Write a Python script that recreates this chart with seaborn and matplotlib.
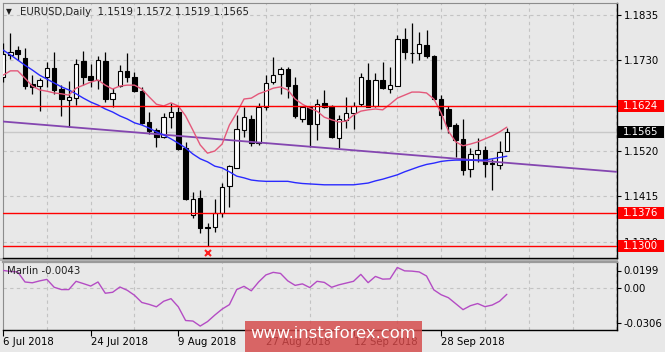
import numpy as np
import pandas as pd
import matplotlib
matplotlib.use("Agg")
import matplotlib.pyplot as plt
import seaborn as sns
from matplotlib.patches import Rectangle
from matplotlib.transforms import blended_transform_factory

# ---------------- data ----------------
opens = [1.1691, 1.1742, 1.1753, 1.1734, 1.1674, 1.1670, 1.1690, 1.1711, 1.1662, 1.1638,
         1.1642, 1.1728, 1.1693, 1.1684, 1.1728, 1.1641, 1.1669, 1.1705, 1.1691, 1.1658,
         1.1586, 1.1568, 1.1553, 1.1598, 1.1611, 1.1526, 1.1372, 1.1411, 1.1345, 1.1344,
         1.1376, 1.1439, 1.1480, 1.1568, 1.1595, 1.1539, 1.1621, 1.1679, 1.1698, 1.1709,
         1.1672, 1.1595, 1.1621, 1.1582, 1.1630, 1.1624, 1.1551, 1.1592, 1.1607, 1.1628,
         1.1685, 1.1624, 1.1684, 1.1662, 1.1670, 1.1778, 1.1747, 1.1747, 1.1765, 1.1739,
         1.1640, 1.1617, 1.1580, 1.1547, 1.1478, 1.1513, 1.1522, 1.1492, 1.1488, 1.1519]
highs = [1.1769, 1.1793, 1.1762, 1.1757, 1.1695, 1.1688, 1.1726, 1.1748, 1.1672, 1.1682,
         1.1732, 1.1751, 1.1721, 1.1739, 1.1748, 1.1666, 1.1718, 1.1747, 1.1702, 1.1667,
         1.1611, 1.1573, 1.1607, 1.1630, 1.1622, 1.1541, 1.1426, 1.1430, 1.1353, 1.1409,
         1.1447, 1.1488, 1.1603, 1.1622, 1.1603, 1.1630, 1.1695, 1.1736, 1.1715, 1.1715,
         1.1691, 1.1624, 1.1622, 1.1639, 1.1661, 1.1626, 1.1603, 1.1644, 1.1634, 1.1701,
         1.1722, 1.1701, 1.1726, 1.1715, 1.1788, 1.1803, 1.1816, 1.1794, 1.1799, 1.1742,
         1.1649, 1.1624, 1.1584, 1.1595, 1.1528, 1.1551, 1.1532, 1.1501, 1.1544, 1.1572]
lows = [1.1680, 1.1732, 1.1730, 1.1662, 1.1652, 1.1612, 1.1668, 1.1652, 1.1601, 1.1575,
        1.1626, 1.1672, 1.1667, 1.1662, 1.1634, 1.1621, 1.1667, 1.1680, 1.1656, 1.1582,
        1.1559, 1.1530, 1.1549, 1.1572, 1.1522, 1.1407, 1.1365, 1.1330, 1.1300, 1.1334,
        1.1367, 1.1391, 1.1480, 1.1553, 1.1532, 1.1534, 1.1615, 1.1675, 1.1652, 1.1642,
        1.1596, 1.1588, 1.1530, 1.1545, 1.1619, 1.1551, 1.1526, 1.1572, 1.1570, 1.1624,
        1.1621, 1.1622, 1.1664, 1.1653, 1.1669, 1.1732, 1.1724, 1.1730, 1.1734, 1.1638,
        1.1570, 1.1562, 1.1507, 1.1465, 1.1459, 1.1495, 1.1459, 1.1430, 1.1478, 1.1519]
closes = [1.1743, 1.1749, 1.1743, 1.1670, 1.1667, 1.1685, 1.1712, 1.1661, 1.1639, 1.1644,
          1.1721, 1.1691, 1.1684, 1.1730, 1.1640, 1.1655, 1.1705, 1.1690, 1.1658, 1.1585,
          1.1567, 1.1553, 1.1598, 1.1611, 1.1525, 1.1409, 1.1409, 1.1342, 1.1343, 1.1376,
          1.1438, 1.1485, 1.1571, 1.1598, 1.1539, 1.1621, 1.1678, 1.1695, 1.1709, 1.1670,
          1.1601, 1.1622, 1.1582, 1.1628, 1.1622, 1.1553, 1.1594, 1.1607, 1.1624, 1.1690,
          1.1622, 1.1684, 1.1665, 1.1672, 1.1778, 1.1749, 1.1746, 1.1767, 1.1739, 1.1639,
          1.1603, 1.1578, 1.1545, 1.1476, 1.1513, 1.1522, 1.1490, 1.1490, 1.1517, 1.1565]

fast_ma = [1.1695, 1.1705, 1.1705, 1.1688, 1.1670, 1.1661, 1.1658, 1.1654, 1.1652, 1.1649,
           1.1665, 1.1672, 1.1679, 1.1684, 1.1672, 1.1663, 1.1670, 1.1672, 1.1672, 1.1663,
           1.1645, 1.1628, 1.1624, 1.1631, 1.1624, 1.1601, 1.1568, 1.1534, 1.1515, 1.1520,
           1.1536, 1.1580, 1.1608, 1.1640, 1.1642, 1.1652, 1.1658, 1.1665, 1.1668, 1.1661,
           1.1640, 1.1628, 1.1619, 1.1612, 1.1598, 1.1592, 1.1587, 1.1589, 1.1603, 1.1612,
           1.1615, 1.1617, 1.1615, 1.1628, 1.1642, 1.1649, 1.1656, 1.1656, 1.1654, 1.1640,
           1.1608, 1.1566, 1.1541, 1.1532, 1.1536, 1.1541, 1.1548, 1.1555, 1.1564, 1.1575]
slow_ma = [1.1753, 1.1742, 1.1730, 1.1718, 1.1707, 1.1695, 1.1686, 1.1677, 1.1668, 1.1661,
           1.1652, 1.1642, 1.1633, 1.1626, 1.1617, 1.1610, 1.1601, 1.1594, 1.1585, 1.1580,
           1.1573, 1.1564, 1.1557, 1.1548, 1.1538, 1.1527, 1.1513, 1.1502, 1.1495, 1.1485,
           1.1481, 1.1472, 1.1462, 1.1458, 1.1453, 1.1451, 1.1450, 1.1450, 1.1450, 1.1450,
           1.1447, 1.1445, 1.1444, 1.1443, 1.1442, 1.1442, 1.1442, 1.1442, 1.1442, 1.1444,
           1.1446, 1.1451, 1.1455, 1.1460, 1.1465, 1.1472, 1.1478, 1.1484, 1.1489, 1.1492,
           1.1496, 1.1498, 1.1499, 1.1499, 1.1499, 1.1499, 1.1499, 1.1502, 1.1505, 1.1508]
marlin = [0.0133, 0.0126, 0.0122, 0.0048, 0.0042, 0.0056, 0.0067, 0.0009, -0.0008, -0.0008,
          0.0053, 0.0036, 0.0018, 0.0048, -0.0035, -0.0028, 0.0011, -0.0013, -0.0050, -0.0103,
          -0.0117, -0.0135, -0.0094, -0.0075, -0.0135, -0.0236, -0.0240, -0.0277, -0.0244, -0.0196,
          -0.0152, -0.0119, -0.0008, 0.0016, -0.0017, 0.0048, 0.0100, 0.0119, 0.0111, 0.0056,
          0.0023, 0.0034, 0.0007, 0.0053, 0.0045, 0.0009, 0.0027, 0.0040, 0.0053, 0.0104,
          0.0043, 0.0089, 0.0069, 0.0071, 0.0155, 0.0130, 0.0128, 0.0122, 0.0092, -0.0010,
          -0.0046, -0.0068, -0.0112, -0.0156, -0.0127, -0.0111, -0.0134, -0.0122, -0.0094, -0.0043]

trend_bars = [0, 84]
trend_prices = [1.1588, 1.1472]
levels = [1.1624, 1.1376, 1.1300]
current_price = 1.1565
marker_bar, marker_price = 28, 1.1284
price_ticks = [1.1835, 1.1730, 1.1625, 1.1520, 1.1415, 1.1310]
marlin_range = (-0.0306, 0.0199)
date_bars = [0, 12, 24, 36, 48, 60]
date_labels = ["6 Jul 2018", "24 Jul 2018", "9 Aug 2018", "27 Aug 2018", "12 Sep 2018", "28 Sep 2018"]
symbol = "EURUSD,Daily"
indicator_name = "Marlin"

# ---------------- style ----------------
BG = "#e8e8e8"
sns.set_theme(style="white")
plt.rcParams["font.family"] = ["DejaVu Sans"]
FS = 7.3

W, H = 665, 352
fig = plt.figure(figsize=(W / 100, H / 100), dpi=100)
fig.patch.set_facecolor(BG)

def fx(px):
    return px / W

def fy(py):
    return 1 - py / H

L, R = 2.5, 616.7
ax = fig.add_axes([fx(L), fy(257.5), fx(R) - fx(L), fy(3) - fy(257.5)])
axm = fig.add_axes([fx(L), fy(330), fx(R) - fx(L), fy(261.5) - fy(330)])

xmin, xmax = -0.08, 84.05
ymin, ymax = 1.12742, 1.18616

df = pd.DataFrame({"bar": np.arange(len(opens)), "open": opens, "high": highs,
                   "low": lows, "close": closes, "fast": fast_ma, "slow": slow_ma,
                   "marlin": marlin})

for a in (ax, axm):
    a.set_facecolor(BG)
    a.set_xlim(xmin, xmax)

ax.set_ylim(ymin, ymax)

# grid
dash = (0, (3, 3))
gcol = "#c3c3c3"
ax.set_xticks(np.arange(6, 85, 6))
ax.tick_params(axis="x", length=0, labelbottom=False)
ax.yaxis.tick_right()
ax.set_yticks(price_ticks)
ax.set_yticklabels([f"{p:.4f}" for p in price_ticks])
ax.tick_params(axis="y", right=True, left=False, length=3, width=0.8, color="black",
               labelsize=FS, pad=2, labelcolor="black")
ax.grid(True, ls=dash, color=gcol, lw=0.8)
ax.set_axisbelow(True)

# current price line
ax.axhline(current_price, color="#c8c8c8", lw=1, zorder=1)

# candles
idx = df["bar"].values
o = df["open"].values; c = df["close"].values
hi = df["high"].values; lo = df["low"].values
up = c >= o
ax.vlines(idx, lo, hi, color="black", lw=0.9, zorder=3)
bottoms = np.minimum(o, c)
heights = np.maximum(np.abs(c - o), 0.00005)
ax.bar(idx[up], heights[up], bottom=bottoms[up], width=0.62, color="white",
       edgecolor="black", lw=0.8, zorder=4)
ax.bar(idx[~up], heights[~up], bottom=bottoms[~up], width=0.62, color="black",
       edgecolor="black", lw=0.8, zorder=4)

# indicator lines
sns.lineplot(x=trend_bars, y=trend_prices, ax=ax, color="#8446b0", lw=1.3, zorder=5,
             estimator=None, legend=False)
sns.lineplot(data=df, x="bar", y="slow", ax=ax, color="#2a2aff", lw=1.0, zorder=6,
             estimator=None, legend=False)
sns.lineplot(data=df, x="bar", y="fast", ax=ax, color="#e4587a", lw=1.0, zorder=6,
             estimator=None, legend=False)

for lv in levels:
    ax.axhline(lv, color="#ff0000", lw=1.0, zorder=7)

ax.plot([marker_bar], [marker_price], marker="x", color="#ff2020", ms=4, mew=1.5,
        zorder=8, clip_on=False)
ax.set_xlabel(""); ax.set_ylabel("")

for s in ("left", "top"):
    ax.spines[s].set_color("#8c8c8c"); ax.spines[s].set_linewidth(0.8)
for s in ("right", "bottom"):
    ax.spines[s].set_color("black"); ax.spines[s].set_linewidth(1.0)

# right-side price tags
trans = blended_transform_factory(ax.transAxes, ax.transData)
dpp = (ymax - ymin) / 254.5
axw = R - L
def tag(price, fc):
    ax.add_patch(Rectangle((1.0 + 1.5 / axw, price - 6 * dpp), 46 / axw, 12 * dpp,
                           transform=trans, clip_on=False, fc=fc, ec="none", zorder=20))
    ax.text(1.0 + 6 / axw, price, f"{price:.4f}", transform=trans, color="white",
            fontsize=FS, va="center", ha="left", zorder=21, clip_on=False)
for lv in levels:
    tag(lv, "#ff0000")
tag(current_price, "#000000")

# title
fig.text(fx(6), fy(12), "\u25bc", fontsize=5.5, va="center", ha="left", color="#202020")
fig.text(fx(20), fy(12),
         f"{symbol}  {opens[-1]:.4f} {highs[-1]:.4f} {lows[-1]:.4f} {closes[-1]:.4f}",
         fontsize=FS, va="center", ha="left", color="#202020")

# ---------------- indicator panel ----------------
mlo, mhi = marlin_range
axm.set_ylim(mlo, mhi)
sns.lineplot(data=df, x="bar", y="marlin", ax=axm, color="#b44cc4", lw=1.0,
             estimator=None, legend=False, zorder=5)
axm.axhline(0, ls=dash, color=gcol, lw=0.8, zorder=1)
axm.set_xticks(date_bars)
axm.set_xticklabels(date_labels)
axm.set_xticks(np.arange(6, 85, 6), minor=True)
axm.xaxis.grid(True, which="minor", ls=dash, color=gcol, lw=0.8)
axm.xaxis.grid(False, which="major")
axm.yaxis.grid(False)
axm.tick_params(axis="x", which="major", bottom=True, length=4, width=0.8, color="black",
                labelsize=FS, pad=1, labelcolor="black")
axm.tick_params(axis="x", which="minor", length=0)
for t in axm.get_xticklabels():
    t.set_ha("left")
rng = mhi - mlo
top_pos = mhi - rng * 9 / 68.5
bot_pos = mlo + rng * 7 / 68.5
axm.yaxis.tick_right()
axm.set_yticks([top_pos, 0, bot_pos])
axm.set_yticklabels([f"{mhi:.4f}", "0.00", f"{mlo:.4f}"])
axm.tick_params(axis="y", right=True, left=False, length=3, width=0.8, color="black",
                labelsize=FS, pad=2, labelcolor="black")
axm.set_xlabel(""); axm.set_ylabel("")
axm.set_axisbelow(True)
axm.spines["left"].set_color("#8c8c8c"); axm.spines["left"].set_linewidth(0.8)
axm.spines["top"].set_color("#9a9a9a"); axm.spines["top"].set_linewidth(1.6)
for s in ("right", "bottom"):
    axm.spines[s].set_color("black"); axm.spines[s].set_linewidth(1.0)
axm.text((7 - L) / axw, (330 - 271) / 68.5, f"{indicator_name} {marlin[-1]:.4f}",
         transform=axm.transAxes, fontsize=FS, va="center", ha="left", color="#202020",
         zorder=10)

# separator between panels
fig.add_artist(Rectangle((fx(0), fy(261)), fx(R + 1), 3.5 / H,
                         transform=fig.transFigure, fc="#b4b4b4", ec="none", zorder=-1))

# watermark
fig.add_artist(Rectangle((fx(245), 0), fx(422) - fx(245), 31 / H, transform=fig.transFigure,
                         fc="#d54848", ec="none", alpha=0.82, zorder=30))
fig.text(fx(333.5), fy(334), "www.instaforex.com", color="white", fontsize=11.8,
         ha="center", va="center", zorder=31)

fig.savefig("out.png", dpi=100, facecolor=BG)
